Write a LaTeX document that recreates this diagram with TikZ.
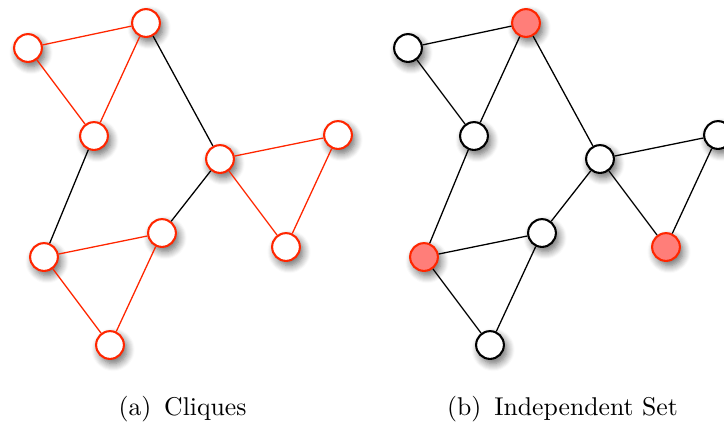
\documentclass[tikz,border=0pt]{standalone}
\usepackage{amsmath}
\usepackage{tikz}
\usetikzlibrary{shadows.blur}

\definecolor{cliquered}{RGB}{255,38,0}
\definecolor{setred}{RGB}{255,126,121}

\begin{document}
\begin{tikzpicture}[x=0.389pt,y=-0.389pt,
        main node/.style={circle,draw,line width=0.8pt,fill=white,inner sep=0pt,minimum size=10.8pt,
            blur shadow={shadow xshift=1.2pt,shadow yshift=-1.8pt,shadow blur radius=3pt,shadow blur steps=8,shadow opacity=60}},
        clique node/.style={main node,draw=cliquered},
        set node/.style={main node,draw=cliquered,fill=setred},
        plain edge/.style={line width=0.5pt,black},
        clique edge/.style={line width=0.5pt,cliquered}]

        \useasboundingbox (0,0) rectangle (724,423);

        % (a) cliques
        \node[clique node] (la) at (28,48) {};
        \node[clique node] (lb) at (146,23) {};
        \node[clique node] (lc) at (94,136) {};
        \node[clique node] (ld) at (220,159) {};
        \node[clique node] (le) at (338,135) {};
        \node[clique node] (lf) at (286,247) {};
        \node[clique node] (lg) at (162,233) {};
        \node[clique node] (lh) at (44,257) {};
        \node[clique node] (li) at (110,345) {};

        \path (la) edge[clique edge] (lb);
        \path (la) edge[clique edge] (lc);
        \path (lb) edge[clique edge] (lc);
        \path (lb) edge[plain edge] (ld);
        \path (lc) edge[plain edge] (lh);
        \path (ld) edge[clique edge] (le);
        \path (ld) edge[clique edge] (lf);
        \path (le) edge[clique edge] (lf);
        \path (ld) edge[plain edge] (lg);
        \path (lg) edge[clique edge] (lh);
        \path (lg) edge[clique edge] (li);
        \path (lh) edge[clique edge] (li);

        \node[anchor=base] (capa) at (182.5,415) {(a)\enspace Cliques};

        % (b) independent set
        \begin{scope}[xshift=380*0.389pt]
            \node[main node] (ra) at (28,48) {};
            \node[set node] (rb) at (146,23) {};
            \node[main node] (rc) at (94,136) {};
            \node[main node] (rd) at (220,159) {};
            \node[main node] (re) at (338,135) {};
            \node[set node] (rf) at (286,247) {};
            \node[main node] (rg) at (162,233) {};
            \node[set node] (rh) at (44,257) {};
            \node[main node] (ri) at (110,345) {};

            \path (ra) edge[plain edge] (rb);
            \path (ra) edge[plain edge] (rc);
            \path (rb) edge[plain edge] (rc);
            \path (rb) edge[plain edge] (rd);
            \path (rc) edge[plain edge] (rh);
            \path (rd) edge[plain edge] (re);
            \path (rd) edge[plain edge] (rf);
            \path (re) edge[plain edge] (rf);
            \path (rd) edge[plain edge] (rg);
            \path (rg) edge[plain edge] (rh);
            \path (rg) edge[plain edge] (ri);
            \path (rh) edge[plain edge] (ri);

            \node[anchor=base] (capb) at (182.5,415) {(b)\enspace Independent Set};
        \end{scope}
    \end{tikzpicture}
\end{document}
